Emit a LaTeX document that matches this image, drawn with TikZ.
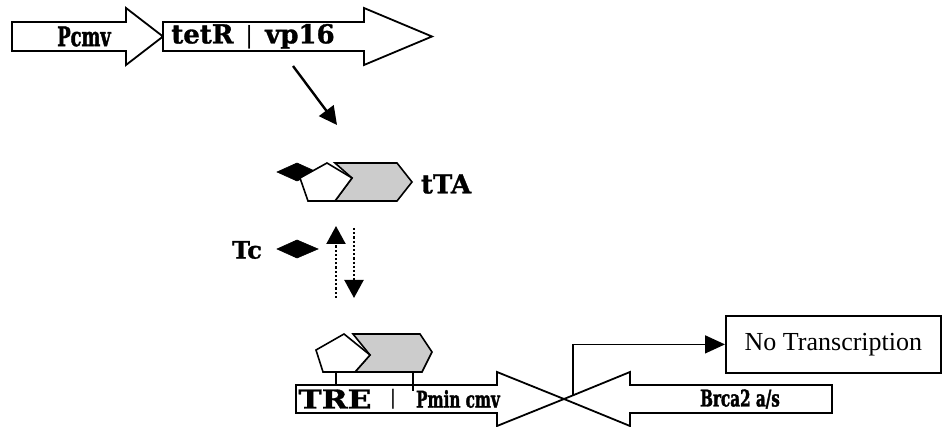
\documentclass[tikz,border=0pt]{standalone}
\usepackage{fontspec}
\setmainfont{Liberation Serif}
\newfontfamily\heavy{DejaVu Serif}[BoldFeatures={FakeBold=1.2}]
\newfontfamily\condheavy{DejaVu Serif}[FakeStretch=0.66, BoldFeatures={FakeBold=1.5}]
\newfontfamily\wideheavy{DejaVu Serif}[FakeStretch=1.2, BoldFeatures={FakeBold=1.2}]
\usetikzlibrary{arrows.meta}
\tikzset{
  gene/.style={draw=black, line width=1.8pt, fill=white, line join=miter},
  prot/.style={draw=black, line width=1.6pt, fill=white, line join=miter},
  tagfill/.style={draw=black, line width=1.6pt, fill=gray!40, line join=miter},
  drug/.style={fill=black, draw=black, line width=0.6pt},
  lbl/.style={inner sep=0pt, font=\heavy\bfseries\fontsize{26}{26}\selectfont},
  clbl/.style={inner sep=0pt, font=\condheavy\bfseries\fontsize{23}{23}\selectfont},
  flow/.style={line width=2.4pt, -{Triangle[length=18pt,width=18pt]}},
  dotflow/.style={line width=2.2pt, dotted, -{Triangle[length=18pt,width=19pt]}},
  outbox/.style={draw=black, line width=1.8pt, minimum width=215pt, minimum height=57pt, inner sep=0pt, font=\fontsize{26}{26}\selectfont}
}
\begin{document}
\begin{tikzpicture}[x=1pt,y=-1pt]
\useasboundingbox (0,0) rectangle (943,427);
% ---- top construct ----
\draw[gene] (12,22) -- (126,22) -- (126,8) -- (163,36.5) -- (126,65) -- (126,51) -- (12,51) -- cycle;
\draw[gene] (163,22) -- (364,22) -- (364,8) -- (432,36.5) -- (364,65) -- (364,51) -- (163,51) -- cycle;
\node[lbl, font=\condheavy\bfseries\fontsize{27}{27}\selectfont] (pcmv) at (84,36.5) {Pcmv};
\node[lbl] (tetr) at (253,36.5) {tetR\,\,\,{\normalfont\bfseries|}\,\,\,vp16};
\coordinate (a1) at (293,66);
\coordinate (a2) at (337,125);
\draw[flow] (a1) -- (a2);
% ---- tTA complex ----
\draw[drug] (277,172) -- (297,163) -- (317,172) -- (297,181) -- cycle;
\draw[tagfill] (335,163) -- (397,163) -- (412,182) -- (397,201) -- (335,201) -- (352,178) -- cycle;
\draw[prot] (327,163) -- (352,178) -- (335,201) -- (308,201) -- (300,178) -- cycle;
\node[lbl] (tta) at (446,184) {tTA};
% ---- Tc ----
\node[lbl, font=\heavy\bfseries\fontsize{24}{24}\selectfont] (tc) at (247,250) {Tc};
\draw[drug] (277,249) -- (297,240) -- (318,249) -- (297,258) -- cycle;
\coordinate (u1) at (336,298);
\coordinate (u2) at (336,226);
\coordinate (d1) at (354,228);
\coordinate (d2) at (354,298);
\draw[dotflow] (u1) -- (u2);
\draw[dotflow] (d1) -- (d2);
% ---- bound complex ----
\draw[tagfill] (353,334) -- (420,334) -- (432,352) -- (422,372) -- (355,372) -- (370,355) -- cycle;
\draw[prot] (344,334) -- (370,355) -- (355,372) -- (323,372) -- (316,350) -- cycle;
\draw[line width=1.2pt] (336,372) -- (336,386);
% ---- reporter construct ----
\draw[gene] (296,385) -- (497,385) -- (497,372) -- (564,399) -- (497,426) -- (497,413) -- (296,413) -- cycle;
\draw[gene] (832,385) -- (630,385) -- (630,372) -- (564,399) -- (630,426) -- (630,413) -- (832,413) -- cycle;
\draw[line width=1.2pt] (413,372) -- (413,391);
\node[lbl, font=\wideheavy\bfseries\fontsize{26}{26}\selectfont] (tre) at (335,399) {TRE};
\node[lbl, font=\normalfont\bfseries\fontsize{22}{22}\selectfont] (bar) at (393,399) {|};
\node[clbl] (pmin) at (458,399) {Pmin cmv};
\node[clbl] (brca) at (740,399) {Brca2 a/s};
% ---- outcome ----
\node[outbox, anchor=north west] (nt) at (725,315) {No Transcription};
\coordinate (t0) at (573,395);
\draw[line width=1.6pt, -{Triangle[length=20pt,width=18pt]}] (t0) |- (nt.west);
\end{tikzpicture}
\end{document}
